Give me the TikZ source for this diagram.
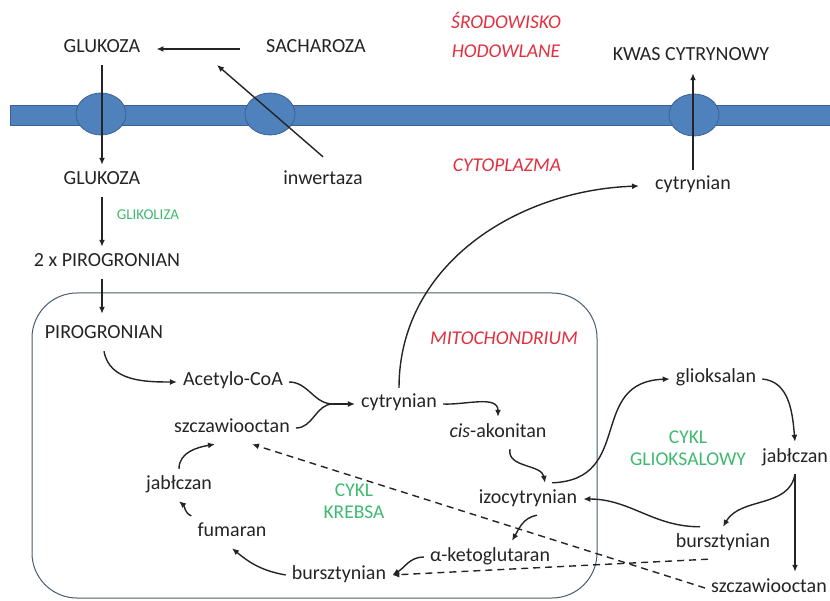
\documentclass[tikz,border=0pt]{standalone}
\usepackage{fontspec}
\setmainfont{Carlito}
\usetikzlibrary{arrows.meta,positioning}
\definecolor{membrane}{RGB}{79,129,189}
\definecolor{membraneedge}{RGB}{58,98,150}
\definecolor{regred}{RGB}{226,46,62}
\definecolor{cycgreen}{RGB}{62,186,112}
\definecolor{ink}{RGB}{36,36,36}
\definecolor{boxline}{RGB}{72,92,108}
\tikzset{
    chem/.style={font=\fontsize{20}{22}\selectfont, text=ink, inner xsep=6pt, inner ysep=8pt, text height=12pt, text depth=4pt},
    place/.style={font=\fontsize{19.5}{29}\selectfont\itshape, text=regred, align=center, inner sep=1pt},
    cyclbl/.style={font=\fontsize{19.5}{22}\selectfont, text=cycgreen, align=center, inner sep=1pt},
    flow/.style={-{Latex[length=7pt,width=6pt]}, line width=1.4pt, draw=ink},
    backflow/.style={flow, dash pattern=on 7pt off 5pt},
    pore/.style={fill=membrane, draw=membraneedge, line width=0.8pt},
}
\begin{document}
\begin{tikzpicture}[x=1pt,y=1pt]
    \useasboundingbox (0,0) rectangle (830,-601);
    \filldraw[pore] (10,-105) rectangle (835,-125);
    \filldraw[pore] (101,-114) ellipse (25 and 21);
    \filldraw[pore] (270,-114) ellipse (25 and 21);
    \filldraw[pore] (694,-115) ellipse (25 and 21);
    \draw[boxline, line width=1pt, rounded corners=45pt] (32,-293) rectangle (597,-598);

    \node[chem] (gluout) at (102,-49) {GLUKOZA};
    \node[chem] (sach) at (316,-49) {SACHAROZA};
    \node[place] (env) at (506,-35) {ŚRODOWISKO\\HODOWLANE};
    \node[chem] (kwas) at (691,-57) {KWAS CYTRYNOWY};
    \node[chem] (gluin) at (102,-181) {GLUKOZA};
    \node[chem] (inw) at (323,-181) {inwertaza};
    \node[place] (cyto) at (507,-165) {CYTOPLAZMA};
    \node[chem] (cytrout) at (693,-186) {cytrynian};
    \node[cyclbl, font=\fontsize{15}{17}\selectfont] (glik) at (148,-215) {GLIKOLIZA};
    \node[chem] (piro2) at (107,-263) {2 x PIROGRONIAN};
    \node[chem] (piro) at (104,-335) {PIROGRONIAN};
    \node[place] (mito) at (504,-338) {MITOCHONDRIUM};
    \node[chem] (acet) at (233,-382) {Acetylo-CoA};
    \node[chem] (cytr) at (399,-404) {cytrynian};
    \node[chem] (szcz) at (232,-428) {szczawiooctan};
    \node[chem] (cis) at (498,-433) {\textit{cis}-akonitan};
    \node[chem] (izo) at (528,-499) {izocytrynian};
    \node[chem] (jab) at (179,-485) {jabłczan};
    \node[chem] (fum) at (232,-532) {fumaran};
    \node[chem] (burs) at (339,-575) {bursztynian};
    \node[chem] (keto) at (490,-557) {α-ketoglutaran};
    \node[cyclbl] (krebs) at (354,-501) {CYKL\\KREBSA};
    \node[chem] (gliok) at (716,-379) {glioksalan};
    \node[chem] (jabg) at (795,-458) {jabłczan};
    \node[cyclbl] (glo) at (688,-448) {CYKL\\GLIOKSALOWY};
    \node[chem] (bursg) at (723,-543) {bursztynian};
    \node[chem] (szczg) at (769,-588) {szczawiooctan};
    \coordinate (invtip) at (217,-65);
    \coordinate (merge) at (333,-404);

    \draw[flow, shorten <=20pt, shorten >=10pt] (sach) -- (gluout);
    \draw[flow] ([yshift=8pt]inw.north) -- (invtip);
    \draw[flow] (gluout) -- (gluin);
    \draw[flow] (gluin.south) -- (gluin.south |- piro2.north);
    \draw[flow, shorten >=5pt] (gluin.south |- piro2.south) -- (gluin.south |- piro.north);
    \draw[flow] (piro.south) to[out=-80,in=180] (acet.west);
    \draw[line width=1.4pt, draw=ink] (acet.east) to[out=0,in=180] (merge);
    \draw[line width=1.4pt, draw=ink] (szcz.east) to[out=0,in=180] (merge);
    \draw[flow] (merge) -- (cytr.west);
    \draw[flow] (cytr.north) to[out=90,in=182] ([xshift=-10pt]cytrout.west);
    \draw[flow] (cytrout.north) -- (cytrout.north |- kwas.south);
    \draw[flow] (cytr.east) to[out=-3,in=90] (cis.north);
    \draw[flow] ([xshift=12pt]cis.south) to[out=-100,in=100] ([xshift=17pt]izo.north);
    \draw[flow] ([xshift=24pt]izo.north) to[out=2,in=182,looseness=1.35] (gliok.west);
    \draw[flow] (gliok.east) to[out=-5,in=95] (jabg.north);
    \draw[flow] (jabg.south) -- (jabg.south |- szczg.north);
    \draw[flow] (jabg.south) to[out=-100,in=60] (bursg.north);
    \draw[flow] ([xshift=-23pt]bursg.north) to[out=180,in=0] (izo.east);
    \draw[flow] ([xshift=9pt]izo.south) to[out=190,in=60] ([xshift=22pt]keto.north);
    \draw[flow] (keto.west) to[out=180,in=30] (burs.east);
    \draw[flow] (burs.west) to[out=170,in=-40] (fum.south);
    \draw[flow] (fum.north west) to[out=160,in=-40] (jab.south);
    \draw[flow] (jab.north) to[out=90,in=190] ([xshift=-17pt]szcz.south);
    \draw[backflow] (szczg.west) -- ([xshift=20pt]szcz.south);
    \draw[backflow] ([xshift=-15pt]bursg.south) -- (burs.east);
\end{tikzpicture}
\end{document}
